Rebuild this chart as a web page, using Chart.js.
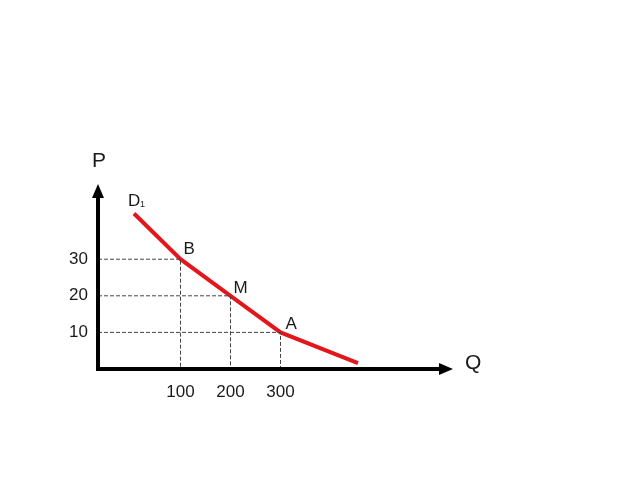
<!DOCTYPE html>
<html>
<head>
<meta charset="utf-8">
<script src="https://cdn.jsdelivr.net/npm/chart.js@4/dist/chart.umd.min.js"></script>
<style>
  html, body { margin: 0; padding: 0; background: #fff; }
  #wrap { width: 638px; height: 479px; }
</style>
</head>
<body>
<div id="wrap"><canvas id="chart"></canvas></div>
<script>
// demand curve D1 (quantity, price)
const curveQ = [7, 100, 200, 300, 455];
const curveP = [42.5, 30, 20, 10, 1.6];

// marked points on the curve
const pointNames = ['B', 'M', 'A'];
const pointQ = [100, 200, 300];
const pointP = [30, 20, 10];

// tick labels
const qTicks = [100, 200, 300];
const pTicks = [10, 20, 30];

// axis ranges (the sketch is not drawn to scale near the origin)
const Q_MIN = -65, Q_MAX = 645;
const P_MIN = 0, P_MAX = 50;

const RED = '#e3161b';
const FONT = '"Liberation Sans", Arial, sans-serif';

const datasets = [];

// dashed guide lines from each point to both axes
pointQ.forEach((q, i) => {
  datasets.push({
    data: [{ x: Q_MIN, y: pointP[i] }, { x: q, y: pointP[i] }, { x: q, y: P_MIN }],
    borderColor: '#444',
    borderWidth: 1,
    borderDash: [4, 2],
    pointRadius: 0,
    fill: false
  });
});

datasets.push({
  data: curveQ.map((q, i) => ({ x: q, y: curveP[i] })),
  borderColor: RED,
  borderWidth: 4,
  pointRadius: 0,
  tension: 0,
  fill: false
});

// axes with arrow heads and the text labels
const sketchPlugin = {
  id: 'sketch',
  afterDatasetsDraw(chart) {
    const ctx = chart.ctx;
    const xs = chart.scales.x, ys = chart.scales.y;
    const x0 = xs.getPixelForValue(Q_MIN);
    const y0 = ys.getPixelForValue(P_MIN);
    const xTip = xs.getPixelForValue(Q_MAX);
    const yTip = ys.getPixelForValue(P_MAX) - 2;

    ctx.save();
    ctx.strokeStyle = '#000';
    ctx.fillStyle = '#000';
    ctx.lineWidth = 4;
    ctx.beginPath();
    ctx.moveTo(x0, yTip + 12);
    ctx.lineTo(x0, y0);
    ctx.lineTo(xTip - 12, y0);
    ctx.stroke();

    ctx.beginPath();
    ctx.moveTo(x0, yTip);
    ctx.lineTo(x0 - 6, yTip + 14);
    ctx.lineTo(x0 + 6, yTip + 14);
    ctx.closePath();
    ctx.fill();

    ctx.beginPath();
    ctx.moveTo(xTip, y0);
    ctx.lineTo(xTip - 14, y0 - 6);
    ctx.lineTo(xTip - 14, y0 + 6);
    ctx.closePath();
    ctx.fill();

    ctx.fillStyle = '#1a1a1a';
    ctx.textBaseline = 'middle';
    ctx.textAlign = 'center';
    ctx.font = '21px ' + FONT;
    ctx.fillText('P', x0 + 1, yTip - 23);
    ctx.textAlign = 'left';
    ctx.fillText('Q', xTip + 12, y0 - 6);

    ctx.font = '17px ' + FONT;
    const offs = [[3, -10], [3, -7], [5, -8]];
    pointNames.forEach((name, i) => {
      const px = xs.getPixelForValue(pointQ[i]);
      const py = ys.getPixelForValue(pointP[i]);
      ctx.fillText(name, px + offs[i][0], py + offs[i][1]);
    });

    const sx = xs.getPixelForValue(curveQ[0]);
    const sy = ys.getPixelForValue(curveP[0]);
    ctx.fillText('D', sx - 6, sy - 12);
    ctx.font = '9px ' + FONT;
    ctx.fillText('1', sx + 6, sy - 9);
    ctx.restore();
  }
};

new Chart(document.getElementById('chart'), {
  type: 'line',
  data: { datasets: datasets },
  options: {
    responsive: true,
    maintainAspectRatio: false,
    animation: false,
    layout: { padding: { top: 186, right: 185, left: 0, bottom: 0 } },
    plugins: { legend: { display: false }, tooltip: { enabled: false } },
    scales: {
      x: {
        type: 'linear',
        min: Q_MIN,
        max: Q_MAX,
        grid: { display: false },
        border: { display: false },
        afterBuildTicks: s => { s.ticks = qTicks.map(v => ({ value: v })); },
        afterFit: s => { s.height = 110; },
        ticks: { color: '#1a1a1a', font: { family: FONT, size: 17 }, padding: 5, maxRotation: 0 }
      },
      y: {
        type: 'linear',
        min: P_MIN,
        max: P_MAX,
        grid: { display: false },
        border: { display: false },
        afterBuildTicks: s => { s.ticks = pTicks.map(v => ({ value: v })); },
        afterFit: s => { s.width = 98; },
        ticks: { color: '#1a1a1a', font: { family: FONT, size: 17 }, padding: 2 }
      }
    }
  },
  plugins: [sketchPlugin]
});
</script>
</body>
</html>
